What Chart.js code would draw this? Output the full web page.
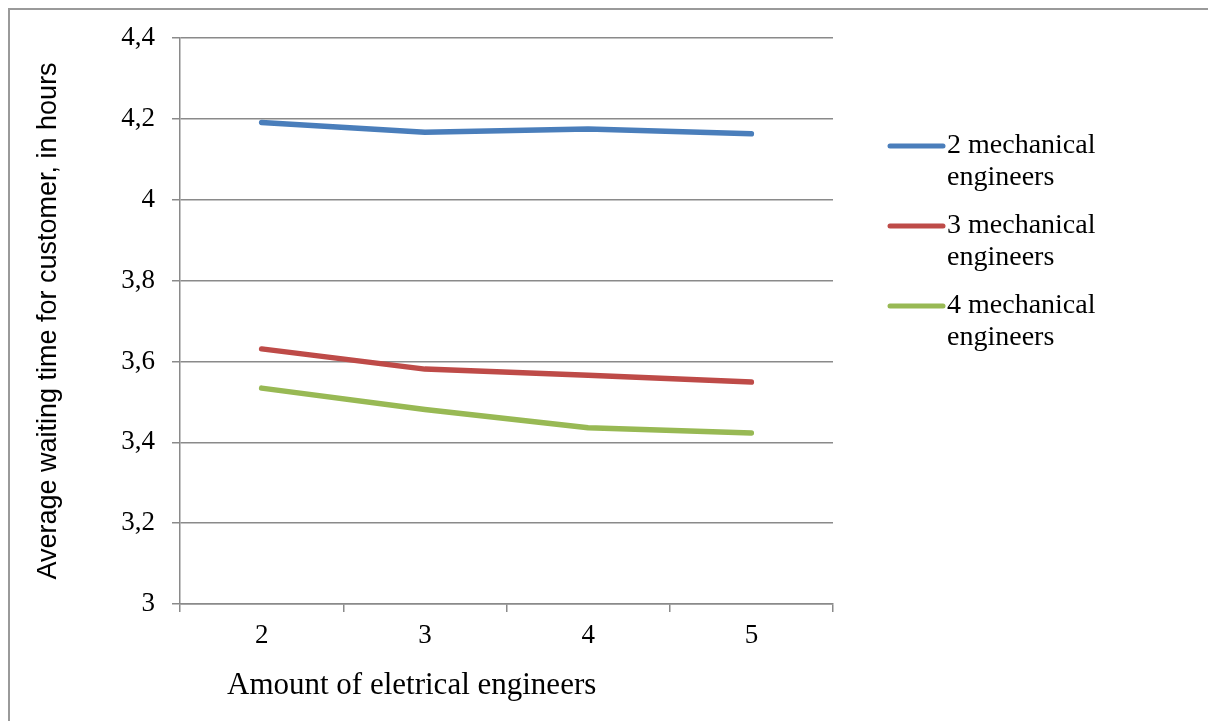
<!DOCTYPE html>
<html>
<head>
<meta charset="utf-8">
<script src="https://cdn.jsdelivr.net/npm/chart.js@4"></script>
<style>
  html, body { margin: 0; padding: 0; background: #fff; }
  #wrap { width: 1208px; height: 721px; position: relative; }
</style>
</head>
<body>
<div id="wrap"><canvas id="chart" width="1208" height="721"></canvas></div>
<script>
// Daten
const categories = ['2', '3', '4', '5'];
const mech2 = [4.191, 4.167, 4.175, 4.163];
const mech3 = [3.631, 3.581, 3.566, 3.549];
const mech4 = [3.534, 3.481, 3.436, 3.423];
const seriesNames = ['2 mechanical engineers', '3 mechanical engineers', '4 mechanical engineers'];
const yTickLabels = ['3', '3,2', '3,4', '3,6', '3,8', '4', '4,2', '4,4'];
const xTitle = 'Amount of eletrical engineers';
const yTitle = 'Average waiting time for customer, in hours';

const gridColor = '#8a8a8a';
const serif = "'Liberation Serif', 'DejaVu Serif', serif";

// Rahmen, X-Titel und Legende (mit Zeilenumbruch) selbst zeichnen
const extras = {
  id: 'extras',
  beforeDraw(chart) {
    const ctx = chart.ctx;
    ctx.save();
    ctx.strokeStyle = '#9a9a9a';
    ctx.lineWidth = 2;
    ctx.strokeRect(9, 9, 1400, 900);
    ctx.restore();
  },
  afterDraw(chart) {
    const ctx = chart.ctx;
    ctx.save();
    ctx.fillStyle = '#000';
    ctx.font = '31px ' + serif;
    ctx.textBaseline = 'middle';
    ctx.textAlign = 'left';
    ctx.fillText(xTitle, 227, 686);

    ctx.font = '28px ' + serif;
    chart.data.datasets.forEach((ds, i) => {
      const y = 146 + i * 80;
      ctx.strokeStyle = ds.borderColor;
      ctx.lineWidth = 5;
      ctx.lineCap = 'round';
      ctx.beginPath();
      ctx.moveTo(890, y);
      ctx.lineTo(943, y);
      ctx.stroke();
      const words = ds.label.split(' ');
      ctx.fillText(words.slice(0, 2).join(' '), 947, y);
      ctx.fillText(words.slice(2).join(' '), 947, y + 32);
    });
    ctx.restore();
  }
};

const makeSet = (label, data, color) => ({
  label: label,
  data: data,
  borderColor: color,
  backgroundColor: color,
  borderWidth: 5.5,
  borderCapStyle: 'round',
  borderJoinStyle: 'round',
  pointRadius: 0,
  tension: 0,
  fill: false
});

new Chart(document.getElementById('chart').getContext('2d'), {
  type: 'line',
  data: {
    labels: categories,
    datasets: [
      makeSet(seriesNames[0], mech2, '#4a7ebb'),
      makeSet(seriesNames[1], mech3, '#be4b48'),
      makeSet(seriesNames[2], mech4, '#98b954')
    ]
  },
  options: {
    responsive: false,
    animation: false,
    layout: { padding: { left: 0, top: 38, right: 375, bottom: 0 } },
    plugins: {
      legend: { display: false },
      tooltip: { enabled: false }
    },
    scales: {
      x: {
        offset: true,
        afterFit: (s) => { s.height = 721 - 604; },
        grid: {
          offset: true,
          drawOnChartArea: false,
          drawTicks: true,
          tickLength: 8,
          color: gridColor,
          lineWidth: 1.5
        },
        border: { display: true, color: gridColor, width: 1.5 },
        ticks: {
          color: '#000',
          font: { family: serif, size: 27 },
          padding: 8,
          maxRotation: 0
        }
      },
      y: {
        min: 3,
        max: 4.4,
        afterFit: (s) => { s.width = 180; },
        ticks: {
          stepSize: 0.2,
          color: '#000',
          font: { family: serif, size: 27 },
          padding: 17,
          callback: (v, i) => yTickLabels[i]
        },
        grid: {
          color: gridColor,
          lineWidth: 1.5,
          tickLength: 8
        },
        border: { display: true, color: gridColor, width: 1.5 },
        title: {
          display: true,
          text: yTitle,
          color: '#000',
          font: { family: "'Liberation Sans', Arial, sans-serif", size: 27 },
          padding: { top: 32, bottom: 0 }
        }
      }
    }
  },
  plugins: [extras]
});
</script>
</body>
</html>
